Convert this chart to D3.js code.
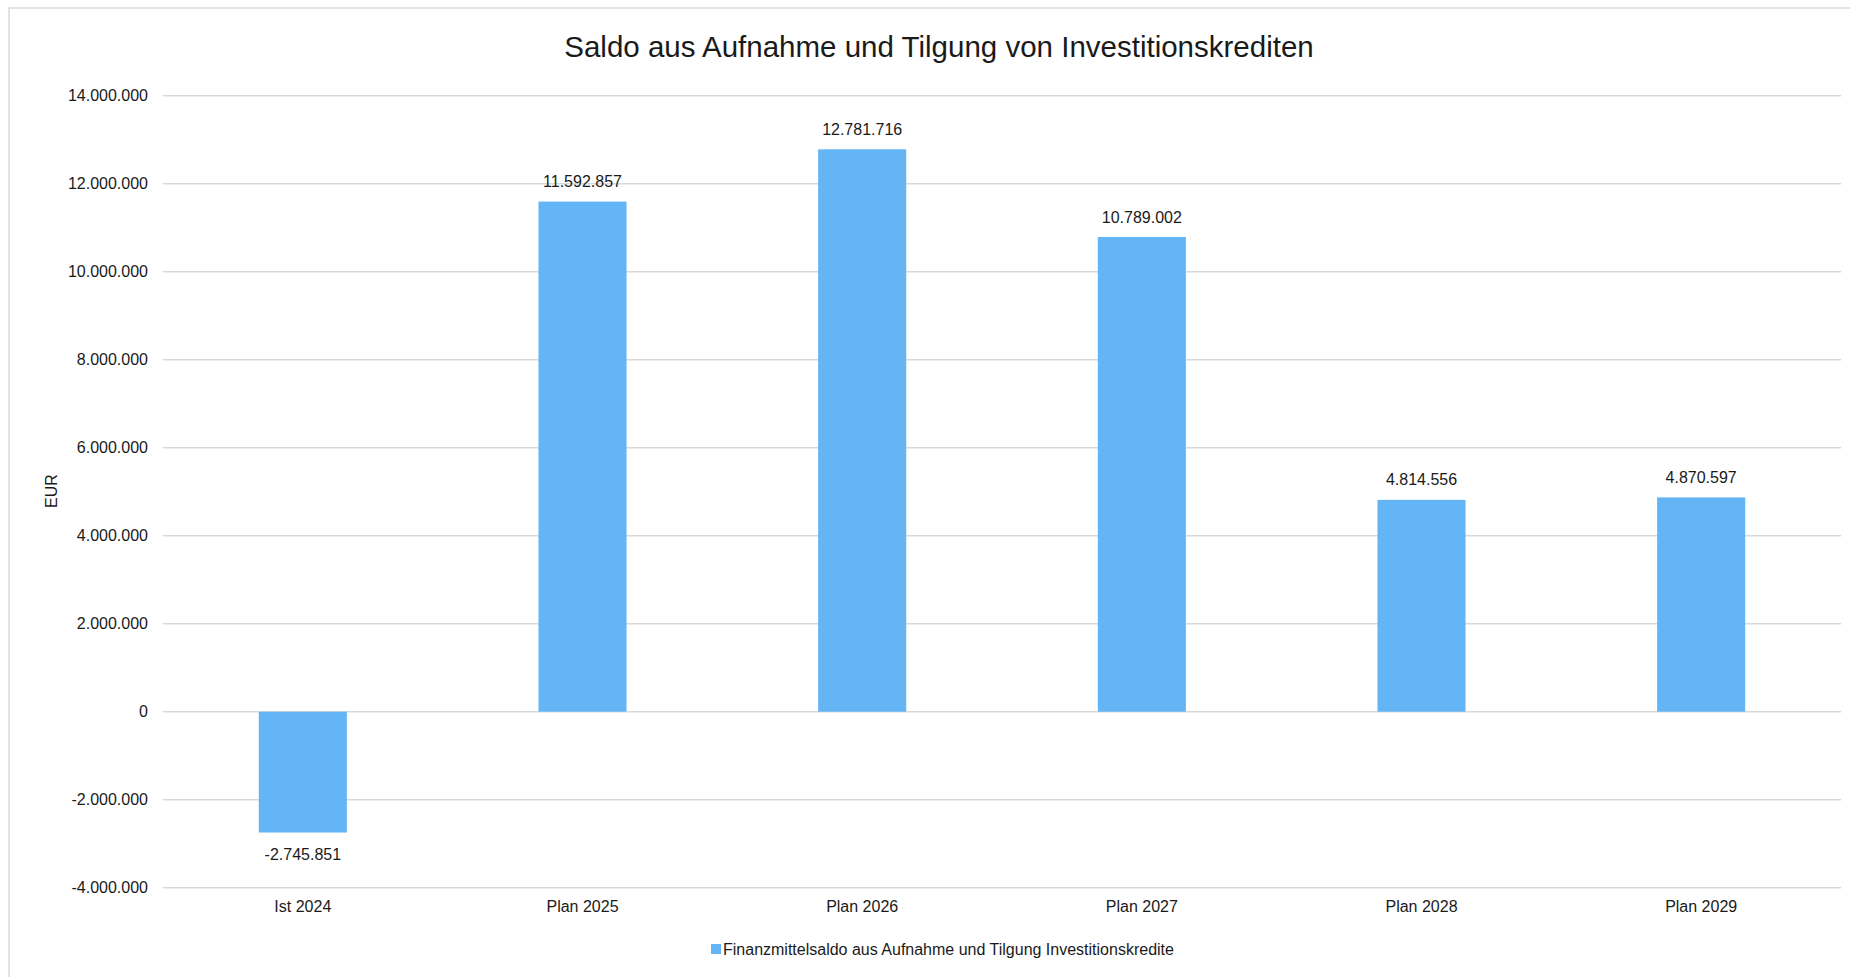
<!DOCTYPE html>
<html>
<head>
<meta charset="utf-8">
<script src="https://cdn.jsdelivr.net/npm/d3@7"></script>
<style>
  body { margin: 0; background: #fff; }
  text { font-family: "Liberation Sans", Arial, sans-serif; fill: #1a1a1a; }
</style>
</head>
<body>
<div id="chart"></div>
<script>
// data
var categories = ["Ist 2024", "Plan 2025", "Plan 2026", "Plan 2027", "Plan 2028", "Plan 2029"];
var values = [-2745851, 11592857, 12781716, 10789002, 4814556, 4870597];
var yTicks = [-4000000, -2000000, 0, 2000000, 4000000, 6000000, 8000000, 10000000, 12000000, 14000000];
var seriesName = "Finanzmittelsaldo aus Aufnahme und Tilgung Investitionskredite";
var chartTitle = "Saldo aus Aufnahme und Tilgung von Investitionskrediten";

(function() {
    var width = 1850;
    var height = 977;
    var barColor = "#64b5f6";

    var de = d3.formatLocale({decimal: ",", thousands: ".", grouping: [3], currency: ["", " €"], minus: "-"});
    var fmt = de.format(",.0f");

    var svg = d3.select("#chart").append("svg")
        .attr("width", width)
        .attr("height", height);

    // outer frame (cut off at right and bottom like the original)
    svg.append("rect")
        .attr("x", 9).attr("y", 8)
        .attr("width", width + 20).attr("height", height + 20)
        .attr("fill", "none")
        .attr("stroke", "#d9d9d9")
        .attr("stroke-width", 1.5);

    var left = 163, right = 1841;
    var x = d3.scaleBand().domain(categories).range([left, right]).paddingInner(0.685).paddingOuter(0.3425);
    var y = d3.scaleLinear().domain([-4000000, 14000000]).range([887.7, 95.7]);

    // grid
    svg.append("g")
        .selectAll("line")
        .data(yTicks)
        .enter()
        .append("line")
        .attr("x1", left).attr("x2", right)
        .attr("y1", function(d) { return y(d); })
        .attr("y2", function(d) { return y(d); })
        .attr("stroke", "#d9d9d9")
        .attr("stroke-width", 1.5);

    // y axis labels
    var yAxis = d3.axisLeft(y).tickValues(yTicks).tickFormat(fmt).tickSize(0).tickPadding(0);
    var gy = svg.append("g").attr("transform", "translate(148,0)").call(yAxis);
    gy.select(".domain").remove();
    gy.selectAll("text").attr("font-size", "16px").attr("dy", "0.28em");

    // x axis labels
    var xAxis = d3.axisBottom(x).tickSize(0).tickPadding(0);
    var gx = svg.append("g").attr("transform", "translate(0,907)").call(xAxis);
    gx.select(".domain").remove();
    gx.selectAll("text").attr("font-size", "16px").attr("dy", "0.3em");

    // bars
    svg.selectAll(".bar")
        .data(values)
        .enter()
        .append("rect")
        .attr("class", "bar")
        .attr("x", function(d, i) { return x(categories[i]); })
        .attr("width", x.bandwidth())
        .attr("y", function(d) { return d >= 0 ? y(d) : y(0); })
        .attr("height", function(d) { return Math.abs(y(d) - y(0)); })
        .attr("fill", barColor);

    // value labels
    svg.selectAll(".val")
        .data(values)
        .enter()
        .append("text")
        .attr("class", "val")
        .attr("x", function(d, i) { return x(categories[i]) + x.bandwidth() / 2; })
        .attr("y", function(d) { return d >= 0 ? y(d) - 20 : y(d) + 22; })
        .attr("dy", "0.35em")
        .attr("text-anchor", "middle")
        .attr("font-size", "16px")
        .text(function(d) { return fmt(d); });

    // title
    svg.append("text")
        .attr("x", 939).attr("y", 47)
        .attr("dy", "0.35em")
        .attr("text-anchor", "middle")
        .attr("font-size", "29.5px")
        .text(chartTitle);

    // y axis title
    svg.append("text")
        .attr("transform", "translate(51,491) rotate(-90)")
        .attr("dy", "0.35em")
        .attr("text-anchor", "middle")
        .attr("font-size", "16px")
        .text("EUR");

    // legend
    var lg = svg.append("g").attr("transform", "translate(711,949)");
    lg.append("rect").attr("x", 0).attr("y", -5).attr("width", 10).attr("height", 10).attr("fill", barColor);
    lg.append("text").attr("x", 12).attr("y", 0).attr("dy", "0.35em").attr("font-size", "16px").text(seriesName);
})();
</script>
</body>
</html>
